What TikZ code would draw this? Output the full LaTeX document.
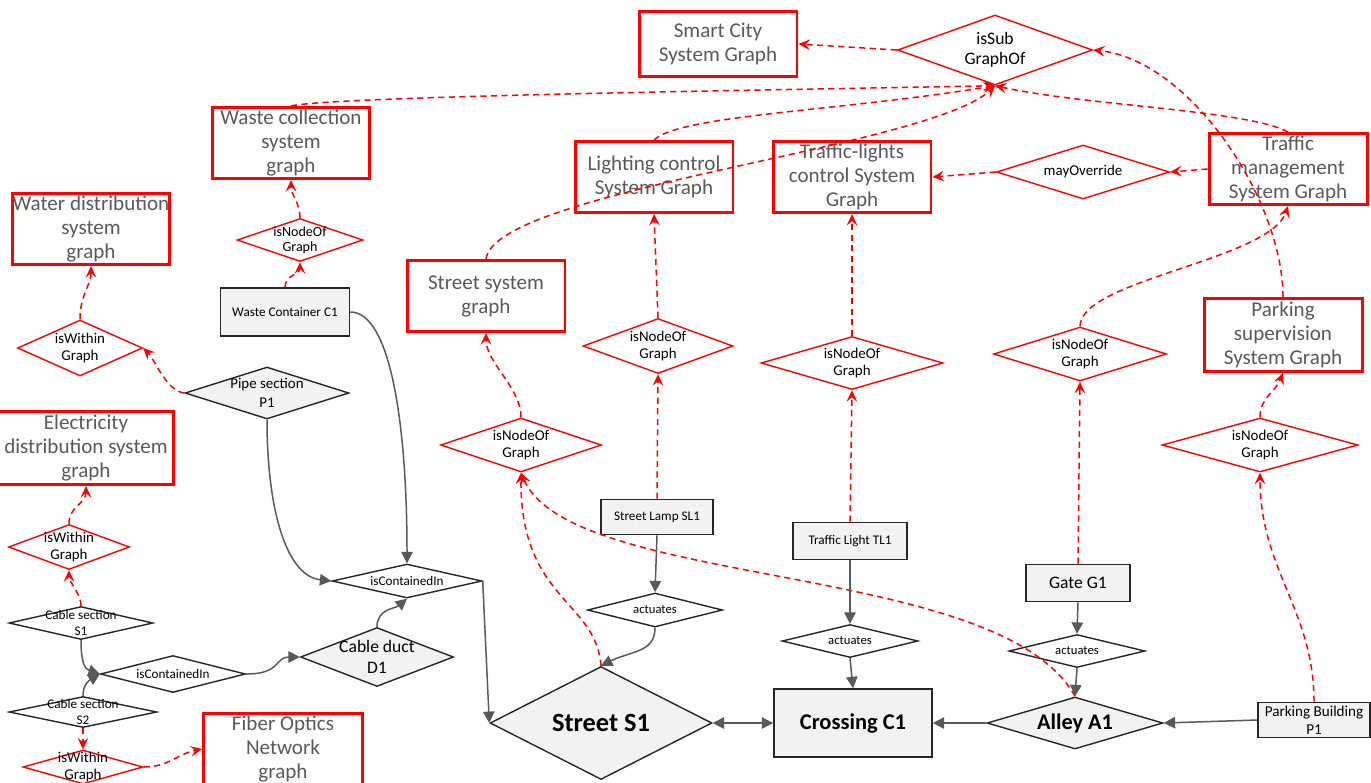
\documentclass[tikz,border=0pt]{standalone}
\usepackage{fontspec}
\setmainfont{Carlito}
\usepackage{xcolor}
\usetikzlibrary{shapes.geometric,arrows.meta,calc}
\definecolor{sysred}{RGB}{255,0,0}
\definecolor{linkgray}{RGB}{89,89,89}
\definecolor{thingfill}{RGB}{242,242,242}
\definecolor{captiongray}{RGB}{89,89,89}
\newcommand{\memberedge}[2]{
  \draw[member] (#1) -- (#2);
}
\newcommand{\linkedge}[2]{
  \draw[link] (#1) -- (#2);
}
\tikzstyle{sysgraph}=[draw=sysred, line width=1.7pt, inner sep=0pt, align=center, text=captiongray, minimum width=3.16cm, minimum height=1.42cm, font=\fontsize{12}{13.7}\selectfont]
\tikzstyle{relation}=[diamond, draw=sysred, line width=.8pt, inner sep=-25pt, align=center, font=\fontsize{8.5}{10.2}\selectfont]
\tikzstyle{thing}=[draw=black!85, fill=thingfill, line width=.9pt, inner sep=0pt, align=center, font=\fontsize{7.5}{9.5}\selectfont]
\tikzstyle{thingrel}=[diamond, draw=black!85, fill=white, line width=.8pt, inner sep=-25pt, align=center, font=\fontsize{7.5}{8.6}\selectfont]
\tikzset{member/.style={sysred, line width=.85pt, dash pattern=on 3.5pt off 2.5pt, -{Stealth[length=6.5pt,width=6pt,inset=2.5pt]}}}
\tikzset{link/.style={linkgray, line width=.85pt, -{Triangle[length=6.5pt,width=6.5pt]}}}
\tikzset{y=-0.02cm}
\tikzset{x=0.02cm}
\begin{document}
\begin{tikzpicture}
  \useasboundingbox (0,0) rectangle (1371,782);
  %% System graphs
  \draw (718,44) node[sysgraph,minimum height=1.3cm] (SCG) {Smart City\\System Graph};
  \draw (291,143) node[sysgraph] (WCG) {Waste collection\\system\\graph};
  \draw (91,229) node[sysgraph] (WDG) {Water distribution\\system\\graph};
  \draw (654,177) node[sysgraph] (LCG) {Lighting control\\System Graph};
  \draw (852,177) node[sysgraph] (TLG) {Traffic-lights\\control System\\Graph};
  \draw (486,296) node[sysgraph] (SSG) {Street system\\graph};
  \draw (1288,169) node[sysgraph] (TMG) {Traffic\\management\\System Graph};
  \draw (1283,335) node[sysgraph,minimum height=1.46cm] (PSG) {Parking\\supervision\\System Graph};
  \draw (86,448) node[sysgraph,minimum width=3.52cm,minimum height=1.46cm] (EDG) {Electricity\\distribution system\\graph};
  \draw (283,749) node[sysgraph,minimum width=3.18cm,minimum height=1.44cm] (FOG) {Fiber Optics\\Network\\graph};

  %% Relations between graphs
  \draw (995,50) node[relation,minimum width=3.9cm,minimum height=1.4cm,font=\fontsize{10}{11.5}\selectfont] (SubG) {isSub\\GraphOf};
  \draw (1083,172) node[relation,minimum width=3.46cm,minimum height=1.08cm] (MayO) {mayOverride};
  \draw (300,240) node[relation,minimum width=2.52cm,minimum height=.86cm,font=\fontsize{8}{8.8}\selectfont] (WCof) {isNodeOf\\Graph};
  \draw (80,348) node[relation,minimum width=2.5cm,minimum height=1.12cm] (WDin) {isWithin\\Graph};
  \draw (521,445) node[relation,minimum width=3.22cm,minimum height=1.08cm] (SSof) {isNodeOf\\Graph};
  \draw (658,346) node[relation,minimum width=3cm,minimum height=1.1cm] (LCof) {isNodeOf\\Graph};
  \draw (852,363) node[relation,minimum width=3.64cm,minimum height=1.06cm] (TLof) {isNodeOf\\Graph};
  \draw (1080,354) node[relation,minimum width=3.46cm,minimum height=1.08cm] (TMof) {isNodeOf\\Graph};
  \draw (1260,445) node[relation,minimum width=3.92cm,minimum height=1.08cm] (PSof) {isNodeOf\\Graph};
  \draw (69,547) node[relation,minimum width=2.42cm,minimum height=.9cm] (EDin) {isWithin\\Graph};
  \draw (83,767) node[relation,minimum width=2.4cm,minimum height=.68cm] (FOin) {isWithin\\Graph};

  %% City objects
  \draw (285,312) node[thing,minimum width=2.58cm,minimum height=.96cm] (WC1) {Waste Container C1};
  \draw (657,517) node[thing,minimum width=2.24cm,minimum height=.7cm] (SL1) {Street Lamp SL1};
  \draw (850,541) node[thing,minimum width=2.28cm,minimum height=.74cm] (TL1) {Traffic Light TL1};
  \draw (1078,583) node[thing,minimum width=2.08cm,minimum height=.74cm,font=\fontsize{10}{12}\selectfont] (G1) {Gate G1};
  \draw (853,723) node[thing,minimum width=3.16cm,minimum height=1.36cm,font=\fontsize{12.8}{15}\selectfont\bfseries] (C1) {Crossing C1};
  \draw (1314,720) node[thing,minimum width=2.24cm,minimum height=.7cm,font=\fontsize{8.6}{10}\selectfont] (P1) {Parking Building\\P1};

  \draw (267,393) node[thingrel,fill=thingfill,minimum width=3.28cm,minimum height=1.04cm,font=\fontsize{8.5}{10.5}\selectfont] (PS1) {Pipe section\\P1};
  \draw (407,581) node[thingrel,minimum width=3cm,minimum height=.68cm] (CinU) {isContainedIn};
  \draw (81,623) node[thingrel,minimum width=2.88cm,minimum height=.66cm] (CS1) {Cable section\\S1};
  \draw (173,674) node[thingrel,minimum width=2.9cm,minimum height=.74cm] (CinL) {isContainedIn};
  \draw (83,712) node[thingrel,minimum width=2.96cm,minimum height=.62cm] (CS2) {Cable section\\S2};
  \draw (377,657) node[thingrel,fill=thingfill,minimum width=3.06cm,minimum height=1.18cm,font=\fontsize{10}{12}\selectfont] (CD1) {Cable duct\\D1};
  \draw (655,610) node[thingrel,minimum width=2.7cm,minimum height=.68cm,font=\fontsize{7.2}{8.6}\selectfont] (SLact) {actuates};
  \draw (850,641) node[thingrel,minimum width=2.72cm,minimum height=.66cm,font=\fontsize{7.2}{8.6}\selectfont] (TLact) {actuates};
  \draw (1077,651) node[thingrel,minimum width=2.72cm,minimum height=.66cm,font=\fontsize{7.2}{8.6}\selectfont] (G1act) {actuates};
  \draw (601,723) node[thingrel,fill=thingfill,minimum width=4.44cm,minimum height=2.26cm,font=\fontsize{15}{17}\selectfont\bfseries] (S1) {Street S1};
  \draw (1075,723) node[thingrel,fill=thingfill,minimum width=3.52cm,minimum height=1.04cm,font=\fontsize{12.7}{15}\selectfont\bfseries] (A1) {Alley A1};

  %% Subgraph links
  \draw[member] (SubG.west) -- (SCG.east);
  \draw[member] (WCG.north) .. controls +(40,-10) and +(-200,4) .. (SubG.south);
  \draw[member] (LCG.north) .. controls +(25,-25) and +(-150,25) .. (SubG.south);
  \draw[member] (SSG.north) .. controls (495,190) and (930,148) .. (SubG.south);
  \draw[member] (TMG.north) .. controls +(-40,-22) and +(90,20) .. (SubG.south);
  \draw[member] (PSG.north) .. controls (1283,200) and (1190,60) .. (SubG.east);
  \memberedge{TMG.west}{MayO.east}
  \memberedge{MayO.west}{TLG.east}

  %% Node membership
  \draw[member] (TMof.north) .. controls (1080,280) and (1270,260) .. (TMG.south);
  \draw[member] (PSof.north) .. controls +(0,-20) and +(-8,20) .. (PSG.south);
  \draw[member] (P1.north) .. controls (1314,610) and (1260,570) .. (PSof.south);
  \memberedge{G1.north}{TMof.south}
  \memberedge{TL1.north}{TLof.south}
  \memberedge{TLof.north}{TLG.south}
  \memberedge{SL1.north}{LCof.south}
  \memberedge{LCof.north}{LCG.south}
  \draw[member] (SSof.north) .. controls +(0,-30) and +(0,30) .. (SSG.south);
  \draw[member] (S1.north) .. controls (596,600) and (520,600) .. (SSof.south);
  \draw[member] (A1.north) .. controls (1000,560) and (570,590) .. (SSof.south);
  \draw[member] (WCof.north) .. controls +(0,-15) and +(0,15) .. (WCG.south);
  \draw[member] (WC1.north) .. controls +(0,-12) and +(0,12) .. (WCof.south);
  \draw[member] (PS1.west) .. controls +(-18,-2) and +(12,12) .. (WDin.east);
  \draw[member] (WDin.north) .. controls +(0,-25) and +(0,20) .. (WDG.south);
  \draw[member] (CS1.north) .. controls +(0,-12) and +(0,12) .. (EDin.south);
  \draw[member] (EDin.north) .. controls +(0,-18) and +(0,18) .. (EDG.south);
  \memberedge{CS2.south}{FOin.north}
  \draw[member] (FOin.east) .. controls +(25,0) and +(-25,5) .. (FOG.west);

  %% Physical links
  \draw[link] (WC1.east) .. controls +(40,0) and +(0,-140) .. (CinU.north);
  \draw[link] (PS1.south) .. controls +(0,90) and +(-45,-5) .. (CinU.west);
  \draw[link] (CD1.north) .. controls +(0,-18) and +(-12,10) .. (CinU.south);
  \draw[link] (CS1.south) .. controls +(0,22) and +(-15,-5) .. (CinL.west);
  \draw[link] (CS2.north) .. controls +(0,-12) and +(-10,6) .. (CinL.west);
  \draw[link] (CinL.east) .. controls +(35,0) and +(-25,0) .. (CD1.west);
  \linkedge{CinU.east}{S1.west}
  \linkedge{SL1.south}{SLact.north}
  \draw[link] (SLact.south) .. controls +(0,25) and +(30,-15) .. (S1.north);
  \linkedge{TL1.south}{TLact.north}
  \linkedge{TLact.south}{C1.north}
  \draw[link,{Triangle[length=6.5pt,width=6.5pt]}-{Triangle[length=6.5pt,width=6.5pt]}] (S1.east) -- (C1.west);
  \linkedge{A1.west}{C1.east}
  \linkedge{P1.west}{A1.east}
  \linkedge{G1.south}{G1act.north}
  \linkedge{G1act.south}{A1.north}
\end{tikzpicture}
\end{document}
